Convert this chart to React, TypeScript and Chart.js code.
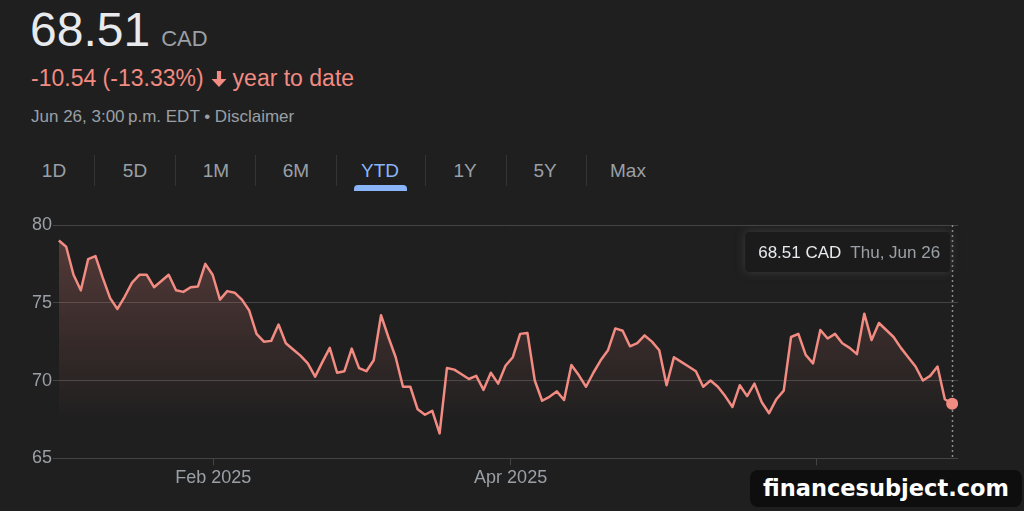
import React, { useEffect, useRef } from "react";
import { Chart, registerables } from "chart.js";

Chart.register(...registerables);

// ---- Data ----
const closePrices: number[] = [
  79.0, 78.6, 76.8, 75.8, 77.8, 78.0, 76.6, 75.3, 74.6, 75.4,
  76.3, 76.8, 76.8, 76.0, 76.4, 76.8, 75.8, 75.7, 76.0, 76.05,
  77.5, 76.8, 75.2, 75.75, 75.65, 75.2, 74.5, 73.0, 72.5, 72.55,
  73.6, 72.4, 72.0, 71.6, 71.1, 70.25, 71.2, 72.1, 70.5, 70.6,
  72.05, 70.8, 70.6, 71.3, 74.2, 72.8, 71.5, 69.6, 69.6, 68.15,
  67.8, 68.05, 66.6, 70.8, 70.7, 70.4, 70.1, 70.3, 69.4, 70.5,
  69.8, 70.95, 71.5, 73.0, 73.05, 70.0, 68.7, 68.95, 69.3, 68.75,
  71.0, 70.35, 69.6, 70.5, 71.3, 71.95, 73.35, 73.2, 72.2, 72.4,
  72.9, 72.5, 71.95, 69.7, 71.5, 71.2, 70.9, 70.6, 69.6, 70.0,
  69.6, 69.0, 68.3, 69.7, 69.0, 69.8, 68.6, 67.9, 68.8, 69.35,
  72.8, 73.0, 71.65, 71.1, 73.25, 72.7, 73.0, 72.4, 72.1, 71.7,
  74.3, 72.6, 73.7, 73.25, 72.8, 72.1, 71.5, 70.9, 70.0, 70.3,
  70.9, 68.8, 68.51,
];
const yTickValues: number[] = [65, 70, 75, 80];
// x positions are trading-day indices
const xTickPositions: number[] = [21.1, 61.7, 103.5];
const xTickLabels: string[] = ["Feb 2025", "Apr 2025", "Jun 2025"];

const lastPrice = "68.51";
const currency = "CAD";
const changeText = "-10.54 (-13.33%)";
const periodText = "year to date";
const timestampText = "Jun 26, 3:00\u2009p.m. EDT \u2022 Disclaimer";
const tooltipDate = "Thu, Jun 26";
const ranges: string[] = ["1D", "5D", "1M", "6M", "YTD", "1Y", "5Y", "Max"];
const activeRange = "YTD";
const watermark = "financesubject.com";

// ---- Layout / style ----
const FONT = "'Liberation Sans', Arial, sans-serif";
const BG = "#1f1f1f";
const LINE = "#f28b82";
const GRID = "#444444";
const TEXT2 = "#9aa0a6";
const tabCenters = [54, 135, 216, 296, 380, 465, 545, 628];
const tabSeparators = [94, 175, 255, 336, 425, 506, 586];

const markerPlugin = {
  id: "lastMarker",
  beforeDatasetsDraw(chart: any) {
    const meta = chart.getDatasetMeta(0);
    const pt = meta.data[meta.data.length - 1];
    if (!pt) return;
    const { ctx, chartArea } = chart;
    ctx.save();
    ctx.strokeStyle = "#8d8d8d";
    ctx.lineWidth = 1.5;
    ctx.setLineDash([2, 3]);
    ctx.beginPath();
    ctx.moveTo(Math.round(pt.x) + 0.5, chartArea.top);
    ctx.lineTo(Math.round(pt.x) + 0.5, chartArea.bottom);
    ctx.stroke();
    ctx.restore();
  },
  afterDatasetsDraw(chart: any) {
    const meta = chart.getDatasetMeta(0);
    const pt = meta.data[meta.data.length - 1];
    if (!pt) return;
    const { ctx, chartArea } = chart;
    ctx.save();
    ctx.font = `17px ${FONT}`;
    const t1 = `${lastPrice} ${currency}`;
    const w1 = ctx.measureText(t1).width;
    const w2 = ctx.measureText(tooltipDate).width;
    const padL = 13;
    const gap = 9;
    const padR = 10;
    const w = padL + w1 + gap + w2 + padR;
    const h = 40;
    const right = pt.x - 2;
    const left = right - w;
    const top = chartArea.top + 7;
    ctx.shadowColor = "rgba(80,80,80,0.6)";
    ctx.shadowBlur = 10;
    ctx.fillStyle = "#1b1b1b";
    ctx.beginPath();
    ctx.roundRect(left, top, w, h, 4);
    ctx.fill();
    ctx.shadowBlur = 0;
    ctx.shadowColor = "transparent";
    ctx.textBaseline = "middle";
    ctx.textAlign = "left";
    ctx.fillStyle = "#e8eaed";
    ctx.fillText(t1, left + padL, top + h / 2 + 1);
    ctx.fillStyle = TEXT2;
    ctx.fillText(tooltipDate, left + padL + w1 + gap, top + h / 2 + 1);
    ctx.restore();
  },
};

function PriceChart() {
  const ref = useRef<HTMLCanvasElement | null>(null);
  useEffect(() => {
    if (!ref.current) return;
    const last = closePrices.length - 1;
    const chart = new Chart(ref.current, {
      type: "line",
      data: {
        datasets: [
          {
            data: closePrices.map((y, i) => ({ x: i, y })),
            borderColor: LINE,
            borderWidth: 2.5,
            tension: 0,
            borderJoinStyle: "round",
            pointRadius: (c: any) => (c.dataIndex === last ? 6 : 0),
            pointHoverRadius: 0,
            pointBackgroundColor: LINE,
            pointBorderWidth: 0,
            fill: "start",
            backgroundColor: (c: any) => {
              const a = c.chart.chartArea;
              if (!a) return "transparent";
              const g = c.chart.ctx.createLinearGradient(0, a.top, 0, a.bottom);
              g.addColorStop(0, "rgba(242,139,130,0.27)");
              g.addColorStop(0.85, "rgba(242,139,130,0)");
              return g;
            },
          },
        ],
      },
      options: {
        responsive: false,
        animation: false,
        events: [],
        layout: { padding: { left: 32, right: 66, top: 225, bottom: 0 } },
        plugins: { legend: { display: false }, tooltip: { enabled: false } },
        scales: {
          x: {
            type: "linear",
            min: -0.8,
            max: 122.8,
            afterFit: (s: any) => {
              s.height = 52.7;
            },
            afterBuildTicks: (s: any) => {
              s.ticks = xTickPositions.map((v) => ({ value: v }));
            },
            ticks: {
              callback: (_v: any, i: number) => xTickLabels[i],
              color: TEXT2,
              font: { size: 18, family: FONT },
              padding: 2,
              maxRotation: 0,
              autoSkip: false,
            },
            grid: {
              drawOnChartArea: false,
              drawTicks: true,
              tickLength: 7,
              tickColor: GRID,
              color: GRID,
            },
            border: { display: false },
          },
          y: {
            min: 65,
            max: 80,
            afterFit: (s: any) => {
              s.width = 21;
            },
            afterBuildTicks: (s: any) => {
              s.ticks = yTickValues.map((v) => ({ value: v }));
            },
            ticks: {
              crossAlign: "far",
              color: TEXT2,
              font: { size: 18, family: FONT },
              padding: 0,
            },
            grid: { color: GRID, drawTicks: false, lineWidth: 1 },
            border: { display: false },
          },
        },
      },
      plugins: [markerPlugin],
    } as any);
    return () => chart.destroy();
  }, []);
  return (
    <canvas
      ref={ref}
      width={1024}
      height={511}
      style={{ position: "absolute", left: 0, top: 0, width: 1024, height: 511 }}
    />
  );
}

export default function App() {
  return (
    <div
      style={{
        position: "fixed",
        left: 0,
        top: 0,
        width: 1024,
        height: 511,
        background: BG,
        fontFamily: FONT,
        overflow: "hidden",
      }}
    >
      <div
        style={{
          position: "absolute",
          left: 30,
          top: 6,
          lineHeight: "48px",
          whiteSpace: "nowrap",
        }}
      >
        <span style={{ fontSize: 48, color: "#e8eaed" }}>{lastPrice}</span>
        <span style={{ fontSize: 22, color: TEXT2, marginLeft: 11 }}>{currency}</span>
      </div>
      <div
        style={{
          position: "absolute",
          left: 31,
          top: 67,
          fontSize: 23,
          lineHeight: "23px",
          color: LINE,
          whiteSpace: "nowrap",
          display: "flex",
          alignItems: "center",
        }}
      >
        <span>{changeText}</span>
        <svg width="20" height="20" viewBox="0 0 24 24" style={{ margin: "0 4px 0 5px" }}>
          <path fill={LINE} d="M9.5 2.5h5v9.5h6.5L12 21.5 3 12h6.5z" />
        </svg>
        <span>{periodText}</span>
      </div>
      <div
        style={{
          position: "absolute",
          left: 31,
          top: 108,
          fontSize: 17,
          lineHeight: "17px",
          color: TEXT2,
          whiteSpace: "nowrap",
        }}
      >
        {timestampText}
      </div>
      {ranges.map((r, i) => (
        <div
          key={r}
          style={{
            position: "absolute",
            left: tabCenters[i] - 40,
            width: 80,
            top: 161,
            fontSize: 19,
            lineHeight: "19px",
            textAlign: "center",
            color: r === activeRange ? "#8ab4f8" : TEXT2,
          }}
        >
          {r}
        </div>
      ))}
      {tabSeparators.map((x, i) => (
        <div
          key={"s" + i}
          style={{
            position: "absolute",
            left: x,
            top: 155,
            width: 1,
            height: 31,
            background: "#343434",
          }}
        />
      ))}
      <div
        style={{
          position: "absolute",
          left: 354,
          top: 185,
          width: 53,
          height: 6,
          background: "#8ab4f8",
          borderRadius: "4px 4px 0 0",
        }}
      />
      <PriceChart />
      <div
        style={{
          position: "absolute",
          left: 750,
          top: 470,
          width: 272,
          height: 37,
          background: "#0e0e0e",
          borderRadius: 8,
          color: "#ffffff",
          fontFamily: "'DejaVu Sans', sans-serif",
          fontWeight: "bold",
          fontSize: 22.5,
          lineHeight: "37px",
          textAlign: "center",
          whiteSpace: "nowrap",
        }}
      >
        {watermark}
      </div>
    </div>
  );
}
